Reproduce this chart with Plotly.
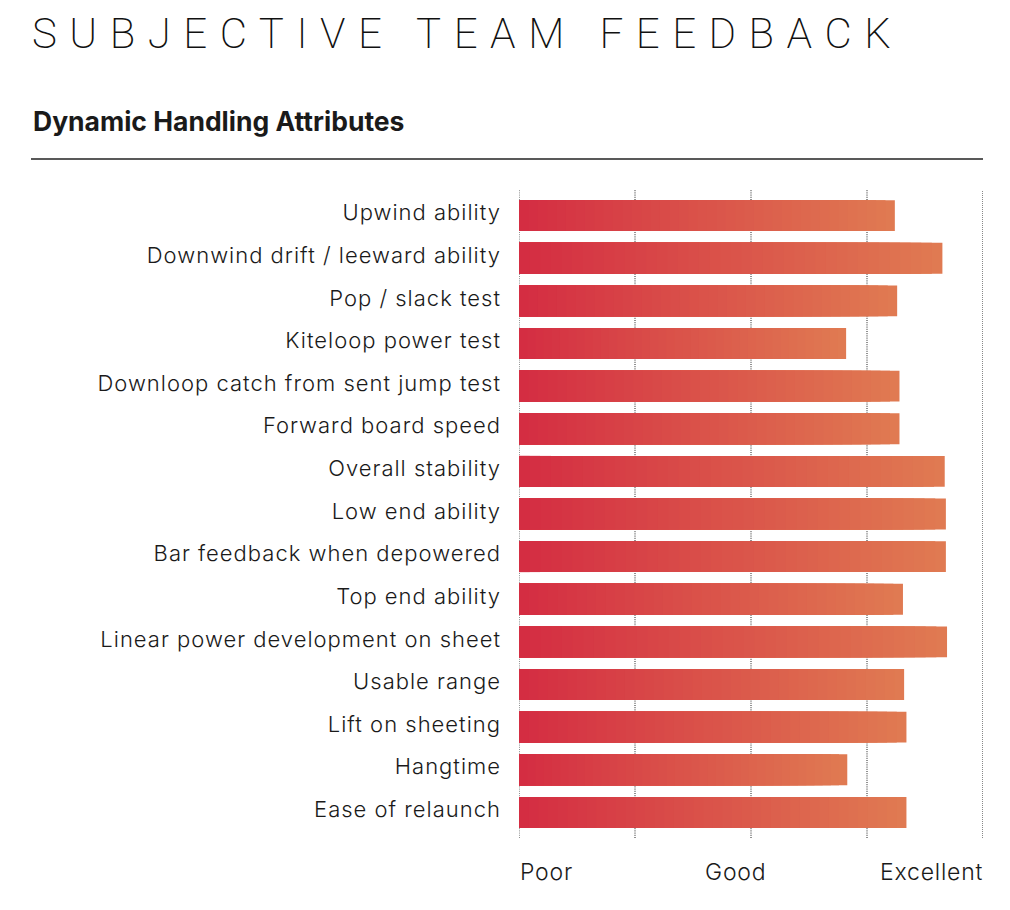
import plotly.graph_objects as go

categories = [
    "Upwind ability",
    "Downwind drift / leeward ability",
    "Pop / slack test",
    "Kiteloop power test",
    "Downloop catch from sent jump test",
    "Forward board speed",
    "Overall stability",
    "Low end ability",
    "Bar feedback when depowered",
    "Top end ability",
    "Linear power development on sheet",
    "Usable range",
    "Lift on sheeting",
    "Hangtime",
    "Ease of relaunch",
]
scores = [3.24, 3.65, 3.26, 2.82, 3.28, 3.28, 3.67, 3.68, 3.68, 3.31, 3.69, 3.32, 3.34, 2.83, 3.34]
scale_ticks = [0, 1, 2, 3, 4]
scale_labels = ["Poor", "Good", "Excellent"]
scale_label_pos = [0, 1.87, 4]

title = "SUBJECTIVE TEAM FEEDBACK"
subtitle = "Dynamic Handling Attributes"

c0 = (212, 44, 66)
c1 = (224, 123, 82)
N = 40


def mix(t):
    return "rgb(%d,%d,%d)" % tuple(round(a + (b - a) * t) for a, b in zip(c0, c1))


fig = go.Figure()
for k in range(N, 0, -1):
    fig.add_trace(go.Bar(
        y=categories,
        x=[v * k / N for v in scores],
        orientation="h",
        marker=dict(color=mix((k - 0.5) / N), line=dict(width=0)),
        width=0.725,
        hoverinfo="skip",
        showlegend=False,
    ))

OFF = 8  # page body margin
W, H = 1010 - OFF, 910 - OFF
L, R, T, B = 519 - OFF, 27, 190 - OFF, 72
pw, ph = W - L - R, H - T - B


def px(x):
    return (x - OFF - L) / pw


def py(y):
    return (H - B - (y - OFF)) / ph


label_font = dict(family="Inter", size=22, color="#1a1a1a", weight=300)
spaced = ['<span style="letter-spacing:1px">%s</span>' % c for c in categories]

fig.update_layout(
    width=W, height=H,
    margin=dict(l=L, r=R, t=T, b=B),
    barmode="overlay",
    plot_bgcolor="white", paper_bgcolor="white",
    font=dict(family="Inter", color="#1a1a1a"),
    xaxis=dict(
        range=[0, 4], tickvals=scale_ticks, showticklabels=False,
        showgrid=False, zeroline=False, showline=False, fixedrange=True,
    ),
    yaxis=dict(
        range=[14.6, -0.6], autorange=False,
        tickvals=categories, ticktext=spaced,
        tickfont=label_font, ticklabelshift=3,
        ticklabelstandoff=17, showgrid=False, zeroline=False, showline=False,
        fixedrange=True,
    ),
)

for t in scale_ticks:
    fig.add_shape(type="line", xref="x", yref="paper", x0=t, x1=t, y0=0, y1=1,
                  layer="below",
                  line=dict(color="#111111" if t == 4 else "#222222", width=1,
                            dash="1px,1px" if t == 4 else "1px,1.2px"))

fig.add_shape(type="line", xref="paper", yref="paper", x0=px(31), x1=px(983),
              y0=py(159), y1=py(159), line=dict(color="#222222", width=1.5))

fig.add_annotation(
    text='<span style="letter-spacing:12.5px">%s</span>' % title,
    xref="paper", yref="paper", x=px(31), y=py(8), xanchor="left", yanchor="top",
    borderpad=0,
    showarrow=False, font=dict(family="Roboto", size=42, color="#111111", weight=200),
)
fig.add_annotation(
    text="<b>%s</b>" % subtitle,
    xref="paper", yref="paper", x=px(31), y=py(121), xanchor="left", yanchor="middle",
    showarrow=False, font=dict(family="Inter", size=26.5, color="#1a1a1a"),
)
anchors = ["left", "center", "right"]
shifts = [-1, 0, 2]
for lab, pos, anc, sh in zip(scale_labels, scale_label_pos, anchors, shifts):
    fig.add_annotation(
        text='<span style="letter-spacing:0.8px">%s</span>' % lab,
        xref="x", yref="paper", x=pos, y=py(872), xanchor=anc, yanchor="middle",
        xshift=sh,
        showarrow=False, font=dict(family="Inter", size=23, color="#1a1a1a", weight=300),
    )

fig.write_html("out.html")
